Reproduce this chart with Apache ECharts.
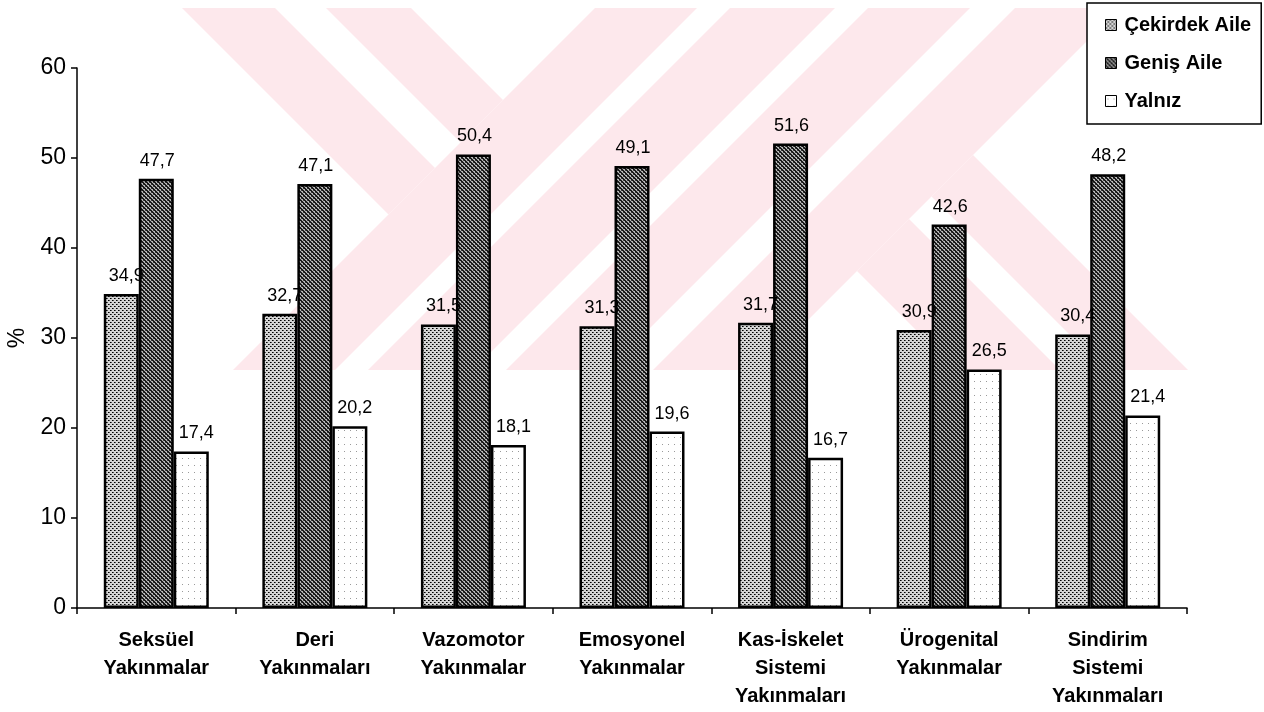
<!DOCTYPE html>
<html>
<head>
<meta charset="utf-8">
<style>
  html, body { margin: 0; padding: 0; background: #fff; }
  #chart { width: 1264px; height: 712px; }
</style>
<script src="https://cdn.jsdelivr.net/npm/echarts@6/dist/echarts.min.js"></script>
</head>
<body>
<div id="chart"></div>
<script>
// Complaint groups and the share (%) in each household type
const categories = [
  'Seksüel\nYakınmalar',
  'Deri\nYakınmaları',
  'Vazomotor\nYakınmalar',
  'Emosyonel\nYakınmalar',
  'Kas-İskelet\nSistemi\nYakınmaları',
  'Ürogenital\nYakınmalar',
  'Sindirim\nSistemi\nYakınmaları'
];
const seriesNames = ['Çekirdek Aile', 'Geniş Aile', 'Yalnız'];
const cekirdekAile = [34.9, 32.7, 31.5, 31.3, 31.7, 30.9, 30.4];
const genisAile    = [47.7, 47.1, 50.4, 49.1, 51.6, 42.6, 48.2];
const yalniz       = [17.4, 20.2, 18.1, 19.6, 16.7, 26.5, 21.4];
const yTicks = { min: 0, max: 60, interval: 10 };

// Small tiled fills that imitate the printed halftone patterns
function makePattern(w, h, bg, dots) {
  const c = document.createElement('canvas');
  c.width = w; c.height = h;
  const ctx = c.getContext('2d');
  ctx.fillStyle = bg;
  ctx.fillRect(0, 0, w, h);
  dots.forEach(([x, y, col]) => { ctx.fillStyle = col; ctx.fillRect(x, y, 1, 1); });
  return { image: c, repeat: 'repeat' };
}
const dotFill = makePattern(4, 4, '#d4d4d4', [
  [0, 0, '#000'], [2, 2, '#000'], [1, 0, '#555'], [3, 2, '#555']
]);
const hatchFill = makePattern(4, 4, '#b5b5b5', [
  [0, 0, '#111'], [1, 1, '#111'], [2, 2, '#111'], [3, 3, '#111'],
  [1, 0, '#222'], [2, 1, '#222'], [3, 2, '#222'], [0, 3, '#222'],
  [3, 0, '#444'], [1, 2, '#444']
]);
const sparseFill = makePattern(6, 7, '#ffffff', [[2, 3, '#9a9a9a']]);

// Faint background emblem made of crossing stripes
const emblemBands = [
  [[182, 8], [275, 8], [435, 168], [388.5, 214.5]],
  [[326, 8], [411, 8], [503, 100], [460.5, 142.5]],
  [[595, 8], [697, 8], [335, 370], [233, 370]],
  [[730, 8], [835, 8], [473, 370], [368, 370]],
  [[868, 8], [970, 8], [608, 370], [506, 370]],
  [[1015, 8], [1120, 8], [758, 370], [653, 370]],
  [[857, 271], [909, 219], [1060, 370], [956, 370]],
  [[931.5, 196.5], [973, 155], [1188, 370], [1105, 370]]
];

const FONT = '"Liberation Sans", Arial, Helvetica, sans-serif';
const fmt = p => String(p.value).replace('.', ',');

function barSeries(name, data, fill, dx) {
  return {
    name: name,
    type: 'bar',
    data: data,
    barWidth: 35,
    barGap: '0%',
    itemStyle: { color: fill, borderColor: '#000', borderWidth: 2.5 },
    label: {
      show: true,
      position: 'top',
      distance: 9,
      offset: [dx, 0],
      formatter: fmt,
      color: '#000',
      fontSize: 18,
      fontFamily: FONT
    },
    emphasis: { disabled: true }
  };
}

const chart = echarts.init(document.getElementById('chart'), null, { renderer: 'canvas' });
chart.setOption({
  backgroundColor: '#fff',
  animation: false,
  graphic: emblemBands.map(pts => ({
    type: 'polygon',
    z: -10,
    silent: true,
    shape: { points: pts },
    style: { fill: '#fde8ec' }
  })),
  legend: {
    data: seriesNames,
    orient: 'vertical',
    left: 1087,
    top: 3,
    padding: [12, 10, 13, 18],
    itemGap: 18,
    itemWidth: 11,
    itemHeight: 11,
    backgroundColor: '#fff',
    borderColor: '#000',
    borderWidth: 1.5,
    borderRadius: 0,
    icon: 'rect',
    itemStyle: { borderColor: '#000', borderWidth: 1 },
    textStyle: { fontFamily: FONT, fontSize: 20, fontWeight: 'bold', color: '#000', padding: [0, 0, 0, 3] }
  },
  grid: { left: 77, right: 77, top: 68, bottom: 104, outerBoundsMode: 'none' },
  xAxis: {
    type: 'category',
    data: categories,
    axisLine: { lineStyle: { color: '#000', width: 1.5 } },
    axisTick: { show: true, length: 6, interval: 0, lineStyle: { color: '#000', width: 1.5 } },
    axisLabel: {
      interval: 0,
      margin: 18,
      color: '#000',
      fontFamily: FONT,
      fontSize: 20,
      fontWeight: 'bold',
      lineHeight: 28
    },
    splitLine: { show: false }
  },
  yAxis: {
    type: 'value',
    min: yTicks.min,
    max: yTicks.max,
    interval: yTicks.interval,
    name: '%',
    nameLocation: 'middle',
    nameGap: 47,
    nameRotate: 90,
    nameTextStyle: { color: '#000', fontFamily: FONT, fontSize: 23 },
    axisLine: { show: true, lineStyle: { color: '#000', width: 1.5 } },
    axisTick: { show: true, length: 6, lineStyle: { color: '#000', width: 1.5 } },
    axisLabel: { color: '#000', fontFamily: FONT, fontSize: 23, margin: 11 },
    splitLine: { show: false }
  },
  series: [
    barSeries(seriesNames[0], cekirdekAile, dotFill, 5),
    barSeries(seriesNames[1], genisAile, hatchFill, 1),
    barSeries(seriesNames[2], yalniz, sparseFill, 5)
  ]
});
</script>
</body>
</html>
